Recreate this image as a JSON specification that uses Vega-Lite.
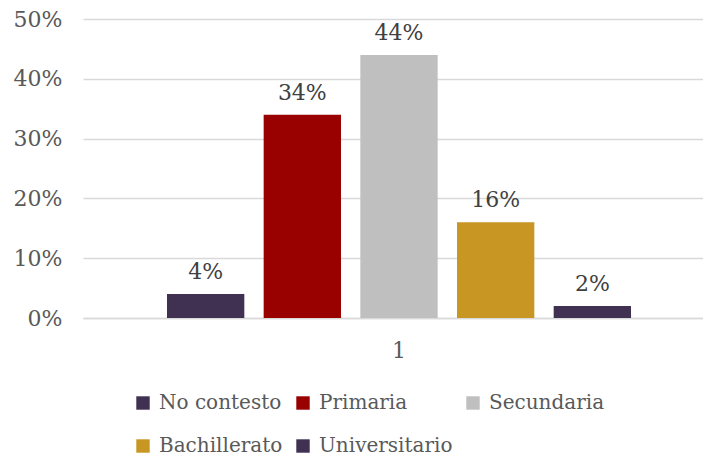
{
  "$schema": "https://vega.github.io/schema/vega-lite/v6.json",
  "width": 632,
  "height": 299,
  "autosize": {"type": "none"},
  "padding": {"left": 83, "top": 19, "right": 0, "bottom": 138},
  "config": {
    "view": {"stroke": null},
    "font": "DejaVu Serif"
  },
  "data": {
    "values": [
      {"g": "1", "cat": "No contesto", "v": 0.04},
      {"g": "1", "cat": "Primaria", "v": 0.34},
      {"g": "1", "cat": "Secundaria", "v": 0.44},
      {"g": "1", "cat": "Bachillerato", "v": 0.16},
      {"g": "1", "cat": "Universitario", "v": 0.02}
    ]
  },
  "encoding": {
    "x": {
      "field": "g",
      "type": "nominal",
      "scale": {"paddingOuter": 0.181, "paddingInner": 0},
      "axis": {
        "title": null,
        "labelAngle": 0,
        "ticks": false,
        "domain": true,
        "domainColor": "#D9D9D9",
        "domainWidth": 1.5,
        "labelFontSize": 22,
        "labelColor": "#595959",
        "labelPadding": 22
      }
    },
    "xOffset": {
      "field": "cat",
      "type": "nominal",
      "sort": ["No contesto", "Primaria", "Secundaria", "Bachillerato", "Universitario"],
      "scale": {"paddingInner": 0.2, "paddingOuter": 0}
    },
    "y": {
      "field": "v",
      "type": "quantitative",
      "scale": {"domain": [0, 0.5], "nice": false},
      "axis": {
        "title": null,
        "format": ".0%",
        "values": [0, 0.1, 0.2, 0.3, 0.4, 0.5],
        "domain": false,
        "ticks": false,
        "gridColor": "#D9D9D9",
        "gridWidth": 1.5,
        "labelFontSize": 22,
        "labelColor": "#595959",
        "labelPadding": 21
      }
    }
  },
  "layer": [
    {
      "mark": {"type": "bar"},
      "encoding": {
        "color": {
          "field": "cat",
          "type": "nominal",
          "sort": ["No contesto", "Primaria", "Secundaria", "Bachillerato", "Universitario"],
          "scale": {
            "domain": ["No contesto", "Primaria", "Secundaria", "Bachillerato", "Universitario"],
            "range": ["#403152", "#990000", "#BFBFBF", "#C89622", "#403152"]
          },
          "legend": {
            "title": null,
            "orient": "none",
            "legendX": 50,
            "legendY": 374,
            "direction": "horizontal",
            "columns": 3,
            "symbolType": "square",
            "symbolSize": 180,
            "symbolStrokeWidth": 0,
            "labelFontSize": 20,
            "labelColor": "#595959",
            "labelOffset": 6,
            "columnPadding": 10,
            "rowPadding": 23,
            "padding": 0,
            "labelLimit": 300
          }
        }
      }
    },
    {
      "mark": {"type": "text", "baseline": "alphabetic", "dy": -15, "fontSize": 22, "color": "#404040"},
      "encoding": {
        "text": {"field": "v", "type": "quantitative", "format": ".0%"}
      }
    }
  ]
}
